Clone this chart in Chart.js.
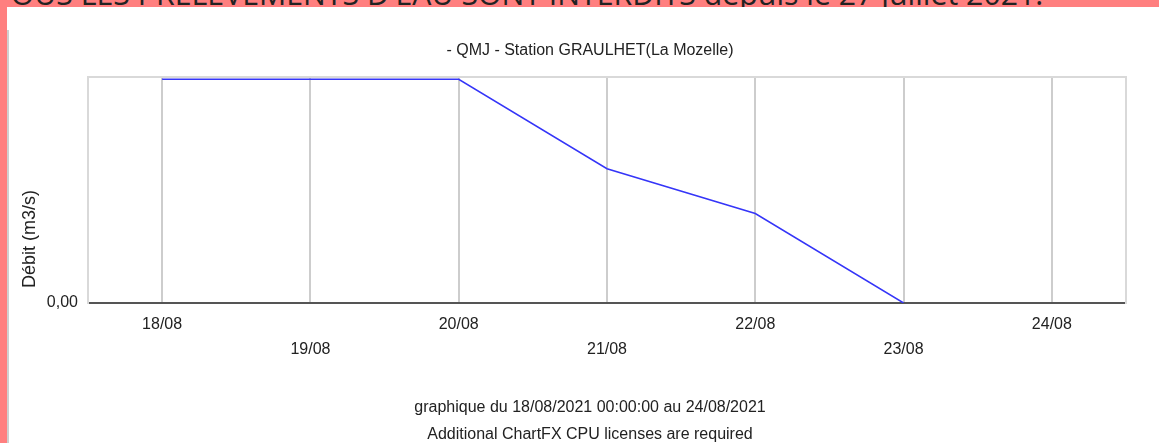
<!DOCTYPE html>
<html>
<head>
<meta charset="utf-8">
<script src="https://cdn.jsdelivr.net/npm/chart.js@4.4.0/dist/chart.umd.min.js"></script>
<style>
  html, body { margin: 0; padding: 0; width: 1159px; height: 443px; overflow: hidden; background: #fff; }
  #band { position: absolute; left: 0; top: 0; width: 1159px; height: 7px; background: #ff7f7f; overflow: hidden; }
  #band span { position: absolute; left: -6px; top: 0; white-space: nowrap; font-family: "Open Sans", sans-serif; font-size: 26px; line-height: 1; color: #222; }
  #side { position: absolute; left: 0; top: 0; width: 7px; height: 443px; background: #ff7f7f; }
  #edge { position: absolute; left: 7px; top: 30px; width: 2px; height: 413px; background: #cfcfcf; }
  #chart { position: absolute; left: 21px; top: 7px; }
</style>
</head>
<body>
<div id="band"><span id="bandText">TOUS LES PRELEVEMENTS D'EAU SONT INTERDITS depuis le 27 juillet 2021.</span></div>
<div id="side"></div>
<div id="edge"></div>
<canvas id="chart" width="1138" height="446"></canvas>
<script>
const days = ['18/08', '19/08', '20/08', '21/08', '22/08', '23/08', '24/08'];
const debit = [0.005, 0.005, 0.005, 0.003, 0.002, 0, null];
const yTicks = [0];

// banner text: only the bottom of the letters shows under the page edge
const band = document.getElementById('bandText');
const fs = 26 * 1050 / band.getBoundingClientRect().width;
band.style.fontSize = fs + 'px';
band.style.top = (6 - 0.888 * fs) + 'px';

// light line on top of the plot
const frame = {
  id: 'frame',
  beforeDatasetsDraw(chart) {
    const { ctx, chartArea: a } = chart;
    ctx.save();
    ctx.strokeStyle = '#d9d9d9';
    ctx.lineWidth = 2;
    ctx.beginPath();
    ctx.moveTo(a.left, a.top);
    ctx.lineTo(a.right + 1, a.top);
    ctx.stroke();
    ctx.restore();
  }
};

const font = { family: '"Liberation Sans", Arial, sans-serif', size: 16 };

new Chart(document.getElementById('chart'), {
  type: 'line',
  data: {
    labels: days,
    datasets: [{
      data: debit,
      borderColor: '#3535f8',
      borderWidth: 1.5,
      pointRadius: 0,
      tension: 0,
      fill: false
    }]
  },
  options: {
    responsive: false,
    animation: false,
    layout: { padding: 0 },
    plugins: {
      legend: { display: false },
      tooltip: { enabled: false },
      title: {
        display: true,
        text: '- QMJ - Station GRAULHET(La Mozelle)',
        color: '#222',
        font: { ...font, weight: 'normal', lineHeight: 1.2 },
        padding: { top: 34, bottom: 16.8 }
      },
      subtitle: {
        display: true,
        position: 'bottom',
        text: ['graphique du 18/08/2021 00:00:00 au 24/08/2021', 'Additional ChartFX CPU licenses are required'],
        color: '#222',
        font: { ...font, lineHeight: 1.6875 },
        padding: { top: 10, bottom: 5 }
      }
    },
    scales: {
      x: {
        offset: true,
        grid: { offset: false, color: '#cdcdcd', lineWidth: 2, drawTicks: false },
        border: { color: '#555', width: 2 },
        ticks: {
          color: '#222',
          font: { ...font, lineHeight: 1.5625 },
          padding: 9.5,
          autoSkip: false,
          maxRotation: 0,
          callback: (v, i) => i % 2 ? ['', days[i]] : days[i]
        },
        afterFit: s => { s.height = 81; }
      },
      y: {
        min: 0,
        max: 0.00505,
        grid: { display: false, drawTicks: false },
        border: { color: '#d9d9d9', width: 2 },
        afterBuildTicks: s => { s.ticks = yTicks.map(v => ({ value: v })); },
        ticks: {
          color: '#222',
          font: font,
          padding: 10,
          callback: v => v.toFixed(2).replace('.', ',')
        },
        title: {
          display: true,
          text: '   Débit (m3/s)',
          align: 'start',
          color: '#222',
          font: { ...font, size: 18, lineHeight: 1 },
          padding: { top: 0, bottom: 0 }
        },
        afterFit: s => { s.width = 67; }
      },
      // empty right axis: its border closes the plot frame
      y2: {
        position: 'right',
        min: 0,
        max: 1,
        grid: { display: false, drawTicks: false },
        border: { color: '#d9d9d9', width: 2 },
        ticks: { display: false },
        afterFit: s => { s.width = 33; }
      }
    }
  },
  plugins: [frame]
});
</script>
</body>
</html>
